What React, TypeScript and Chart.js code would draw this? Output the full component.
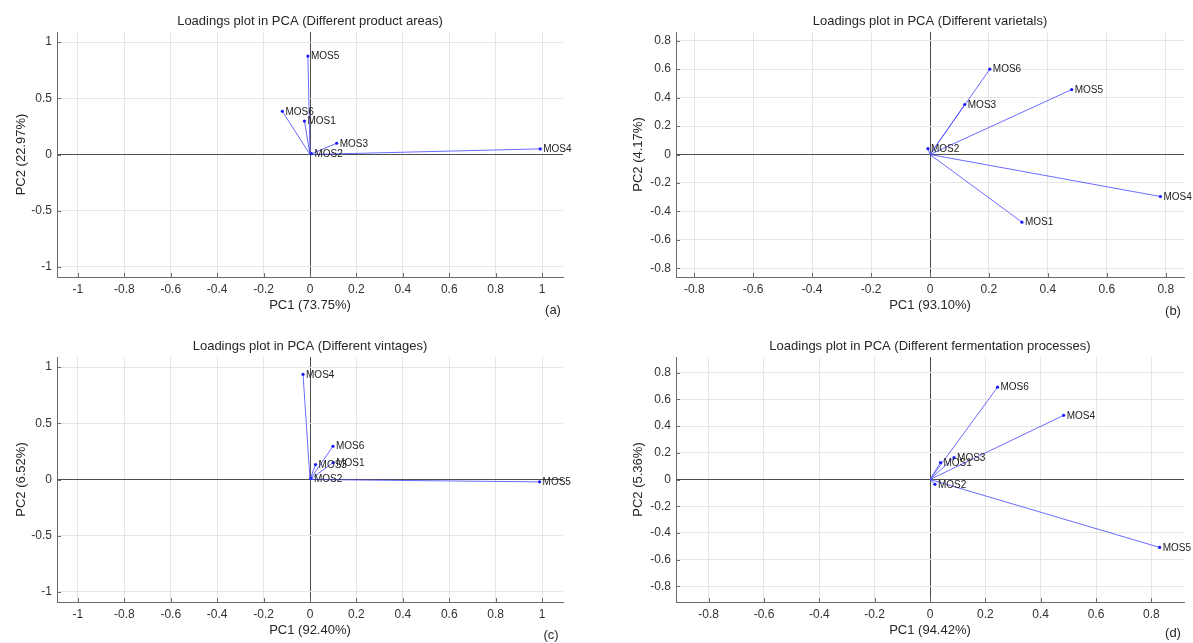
import React, { useEffect, useRef } from "react";
import { Chart, registerables } from "chart.js";

Chart.register(...registerables);

const FONT = "'Liberation Sans', Arial, Helvetica, sans-serif";

const variables = ["MOS1", "MOS2", "MOS3", "MOS4", "MOS5", "MOS6"];

// (a) Different product areas
const pc1A = [-0.024, 0.006, 0.115, 0.992, -0.009, -0.119];
const pc2A = [0.297, 0.008, 0.100, 0.050, 0.876, 0.384];
// (b) Different varietals
const pc1B = [0.312, -0.007, 0.118, 0.782, 0.481, 0.203];
const pc2B = [-0.475, 0.041, 0.351, -0.295, 0.456, 0.599];
// (c) Different vintages
const pc1C = [0.100, 0.004, 0.024, -0.030, 0.989, 0.099];
const pc2C = [0.151, 0.010, 0.133, 0.936, -0.021, 0.296];
// (d) Different fermentation processes
const pc1D = [0.038, 0.018, 0.087, 0.483, 0.830, 0.244];
const pc2D = [0.127, -0.036, 0.165, 0.481, -0.509, 0.692];

const titles = [
  "Loadings plot in PCA (Different product areas)",
  "Loadings plot in PCA (Different varietals)",
  "Loadings plot in PCA (Different vintages)",
  "Loadings plot in PCA (Different fermentation processes)",
];
const xLabels = ["PC1 (73.75%)", "PC1 (93.10%)", "PC1 (92.40%)", "PC1 (94.42%)"];
const yLabels = ["PC2 (22.97%)", "PC2 (4.17%)", "PC2 (6.52%)", "PC2 (5.36%)"];
const letters = ["(a)", "(b)", "(c)", "(d)"];

type Panel = {
  idx: number;
  pc1: number[];
  pc2: number[];
  xRange: number;
  yRange: number;
  xStep: number;
  yStep: number;
  left: number;
  top: number;
  w: number;
  h: number;
  L: number;
  R: number;
  T: number;
  B: number;
  titleY: number;
  xTitleY: number;
  yTitleX: number;
  letterX: number;
  letterY: number;
};

const panels: Panel[] = [
  { idx: 0, pc1: pc1A, pc2: pc2A, xRange: 1.09, yRange: 1.09, xStep: 0.2, yStep: 0.5,
    left: 0, top: 0, w: 596, h: 320, L: 57, R: 563, T: 32, B: 277,
    titleY: 21, xTitleY: 305, yTitleX: 21, letterX: 553, letterY: 310 },
  { idx: 1, pc1: pc1B, pc2: pc2B, xRange: 0.862, yRange: 0.86, xStep: 0.2, yStep: 0.2,
    left: 595, top: 0, w: 598, h: 320, L: 81, R: 589, T: 32, B: 277,
    titleY: 21, xTitleY: 305, yTitleX: 43, letterX: 578, letterY: 311 },
  { idx: 2, pc1: pc1C, pc2: pc2C, xRange: 1.09, yRange: 1.09, xStep: 0.2, yStep: 0.5,
    left: 0, top: 320, w: 596, h: 323, L: 57, R: 563, T: 37, B: 282,
    titleY: 26, xTitleY: 310, yTitleX: 21, letterX: 551, letterY: 315 },
  { idx: 3, pc1: pc1D, pc2: pc2D, xRange: 0.918, yRange: 0.918, xStep: 0.2, yStep: 0.2,
    left: 595, top: 320, w: 598, h: 323, L: 81, R: 589, T: 37, B: 282,
    titleY: 26, xTitleY: 310, yTitleX: 43, letterX: 578, letterY: 313 },
];

const fmt = (v: number) => {
  const n = Math.round(v * 100) / 100;
  return String(n === 0 ? 0 : n);
};

const AXIS_COLOR = "#6a6a6a";
const GRID_COLOR = "#e6e6e6";
const TEXT_COLOR = "#262626";

function PanelChart({ p }: { p: Panel }) {
  const ref = useRef<HTMLCanvasElement | null>(null);
  useEffect(() => {
    if (!ref.current) return;
    const datasets = variables.map((name, i) => ({
      label: name,
      data: [
        { x: 0, y: 0 },
        { x: p.pc1[i], y: p.pc2[i] },
      ],
      showLine: true,
      borderColor: "rgba(70,70,255,0.8)",
      borderWidth: 1,
      backgroundColor: "#1a1aff",
      pointBackgroundColor: "#1a1aff",
      pointBorderWidth: 0,
      pointRadius: [0, 1.6],
    }));

    const decor = {
      id: "decor" + p.idx,
      afterDatasetsDraw(chart: any) {
        const { ctx, chartArea, scales } = chart;
        const xs = scales.x;
        const ys = scales.y;
        ctx.save();
        // inward tick marks
        ctx.strokeStyle = AXIS_COLOR;
        ctx.lineWidth = 1;
        ctx.beginPath();
        xs.ticks.forEach((t: any) => {
          const px = Math.round(xs.getPixelForValue(t.value)) + 0.5;
          ctx.moveTo(px, chartArea.bottom);
          ctx.lineTo(px, chartArea.bottom - 4);
        });
        ys.ticks.forEach((t: any) => {
          const py = Math.round(ys.getPixelForValue(t.value)) + 0.5;
          ctx.moveTo(chartArea.left, py);
          ctx.lineTo(chartArea.left + 4, py);
        });
        ctx.stroke();
        // variable labels
        ctx.fillStyle = "#222";
        ctx.font = `10px ${FONT}`;
        ctx.textAlign = "left";
        ctx.textBaseline = "middle";
        variables.forEach((name, i) => {
          const px = xs.getPixelForValue(p.pc1[i]);
          const py = ys.getPixelForValue(p.pc2[i]);
          ctx.fillText(name, px + 3, py + 0.5);
        });
        // title
        ctx.fillStyle = TEXT_COLOR;
        ctx.font = `13px ${FONT}`;
        ctx.textAlign = "center";
        ctx.fillText(titles[p.idx], (chartArea.left + chartArea.right) / 2, p.titleY);
        // panel letter
        ctx.fillText(letters[p.idx], p.letterX, p.letterY);
        ctx.restore();
      },
    };

    const chart = new Chart(ref.current, {
      type: "scatter",
      data: { datasets },
      options: {
        animation: false,
        responsive: false,
        events: [],
        layout: { padding: { left: 0, top: p.T, right: p.w - p.R, bottom: 0 } },
        plugins: { legend: { display: false }, tooltip: { enabled: false }, title: { display: false } },
        scales: {
          x: {
            type: "linear",
            min: -p.xRange,
            max: p.xRange,
            afterFit: (s: any) => {
              s.height = p.h - p.B;
            },
            ticks: {
              stepSize: p.xStep,
              includeBounds: false,
              maxTicksLimit: 30,
              autoSkip: false,
              maxRotation: 0,
              padding: 5,
              color: "#333",
              font: { family: FONT, size: 12 },
              callback: (v: any) => fmt(Number(v)),
            },
            grid: {
              drawTicks: false,
              color: (c: any) => (c.tick && Math.abs(c.tick.value) < 1e-9 ? "#4d4d4d" : GRID_COLOR),
              lineWidth: 1,
            },
            border: { display: true, color: AXIS_COLOR, width: 1 },
            title: {
              display: true,
              text: xLabels[p.idx],
              color: TEXT_COLOR,
              font: { family: FONT, size: 13 },
              padding: { top: 0, bottom: p.h - p.xTitleY - 7.8 },
            },
          },
          y: {
            type: "linear",
            min: -p.yRange,
            max: p.yRange,
            afterFit: (s: any) => {
              s.width = p.L;
            },
            ticks: {
              stepSize: p.yStep,
              includeBounds: false,
              maxTicksLimit: 30,
              autoSkip: false,
              padding: 5,
              color: "#333",
              font: { family: FONT, size: 12 },
              callback: (v: any) => fmt(Number(v)),
            },
            grid: {
              drawTicks: false,
              color: (c: any) => (c.tick && Math.abs(c.tick.value) < 1e-9 ? "#4d4d4d" : GRID_COLOR),
              lineWidth: 1,
            },
            border: { display: true, color: AXIS_COLOR, width: 1 },
            title: {
              display: true,
              text: yLabels[p.idx],
              color: TEXT_COLOR,
              font: { family: FONT, size: 13 },
              padding: { top: p.yTitleX - 7.8, bottom: 0 },
            },
          },
        },
      },
      plugins: [decor],
    } as any);
    return () => chart.destroy();
  }, [p]);

  return (
    <canvas
      ref={ref}
      width={p.w}
      height={p.h}
      style={{ position: "absolute", left: p.left, top: p.top, width: p.w, height: p.h, display: "block" }}
    />
  );
}

export default function App() {
  return (
    <div style={{ position: "fixed", left: 0, top: 0, width: 1193, height: 643, background: "#fff", overflow: "hidden" }}>
      {panels.map((p) => (
        <PanelChart key={p.idx} p={p} />
      ))}
    </div>
  );
}
